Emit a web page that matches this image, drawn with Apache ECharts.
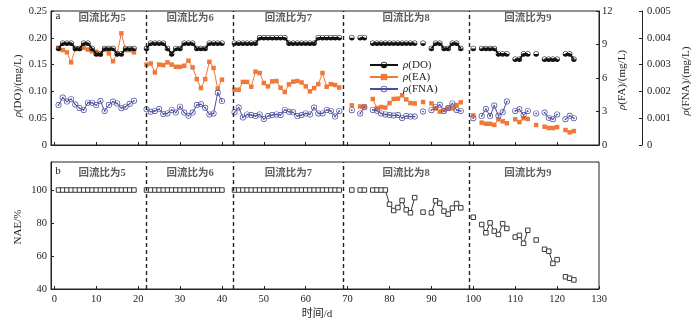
<!DOCTYPE html>
<html>
<head>
<meta charset="utf-8">
<script src="https://cdn.jsdelivr.net/npm/echarts@6/dist/echarts.min.js"></script>
<style>
  html, body { margin: 0; padding: 0; background: #ffffff; }
  #chart { width: 700px; height: 326px; }
</style>
</head>
<body>
<div id="chart"></div>
<script>
// Sampling days (d)
const days = [
  1, 2, 3, 4, 5, 6, 7, 8, 9, 10, 11, 12, 13, 14, 15, 16, 17, 18, 19,
  22, 23, 24, 25, 26, 27, 28, 29, 30, 31, 32, 33, 34, 35, 36, 37, 38, 39, 40,
  43, 44, 45, 46, 47, 48, 49, 50, 51, 52, 53, 54, 55, 56, 57, 58, 59, 60, 61, 62, 63, 64, 65, 66, 67, 68,
  71, 73, 74, 76, 77, 78, 79, 80, 81, 82, 83, 84, 85, 86, 88, 90, 91, 92, 93, 94, 95, 96, 97,
  100, 102, 103, 104, 105, 106, 107, 108, 110, 111, 112, 113, 115, 117, 118, 119, 120, 122, 123, 124
];

// Dissolved oxygen, mg/L
const doValues = [
  0.18, 0.19, 0.19, 0.19, 0.18, 0.18, 0.19, 0.19, 0.18, 0.17, 0.17, 0.18, 0.18, 0.18, 0.17, 0.17, 0.18, 0.18, 0.18,
  0.18, 0.19, 0.19, 0.19, 0.19, 0.18, 0.17, 0.18, 0.18, 0.19, 0.19, 0.19, 0.18, 0.18, 0.18, 0.19, 0.19, 0.19, 0.19,
  0.19, 0.19, 0.19, 0.19, 0.19, 0.19, 0.20, 0.20, 0.20, 0.20, 0.20, 0.20, 0.20, 0.19, 0.19, 0.19, 0.19, 0.19, 0.19, 0.19, 0.20, 0.20, 0.20, 0.20, 0.20, 0.20,
  0.20, 0.20, 0.20, 0.19, 0.19, 0.19, 0.19, 0.19, 0.19, 0.19, 0.19, 0.19, 0.19, 0.19, 0.19, 0.18, 0.19, 0.19, 0.18, 0.18, 0.19, 0.19, 0.18,
  0.18, 0.18, 0.18, 0.18, 0.18, 0.17, 0.17, 0.17, 0.16, 0.16, 0.17, 0.17, 0.17, 0.16, 0.16, 0.16, 0.16, 0.17, 0.17, 0.16
];

// Free ammonia, mg/L
const eaValues = [
  8.7, 8.5, 8.3, 7.4, 8.6, 8.6, 8.7, 8.55, 8.4, 8.35, 8.1, 8.55, 8.2, 7.5, 8.2, 10.0, 8.5, 8.5, 8.3,
  7.2, 7.3, 6.5, 7.2, 7.15, 7.4, 7.2, 7.0, 7.0, 7.1, 7.55, 6.95, 5.9, 5.1, 5.9, 7.45, 6.9, 5.05, 5.85,
  4.95, 4.95, 5.65, 5.65, 5.22, 6.57, 6.45, 5.55, 5.25, 5.7, 5.73, 5.13, 4.75, 5.43, 5.67, 5.73, 5.6, 5.25, 4.8, 5.1, 5.45, 6.45, 5.22, 5.45, 5.37, 5.15,
  3.55, 3.45, 3.45, 4.12, 3.3, 3.4, 3.35, 3.75, 4.12, 4.15, 4.45, 4.08, 3.75, 3.72, 3.85, 3.73, 3.28, 2.99, 3.13, 3.28, 3.28, 3.58, 3.82,
  2.65, 2.0, 1.9, 1.9, 1.8, 2.3, 2.12, 1.95, 2.3, 2.05, 2.4, 2.33, 1.79, 1.64, 1.52, 1.52, 1.6, 1.34, 1.13, 1.25
];

// Free nitrous acid, mg/L
const fnaValues = [
  0.00149, 0.00177, 0.00162, 0.00171, 0.00151, 0.00138, 0.00131, 0.00158, 0.00158, 0.00149, 0.00164, 0.00127, 0.00149, 0.00162, 0.00155, 0.00137, 0.00143, 0.00154, 0.00165,
  0.00133, 0.00124, 0.00127, 0.00134, 0.00116, 0.00118, 0.00131, 0.00121, 0.00143, 0.00121, 0.00109, 0.00121, 0.00149, 0.00152, 0.00139, 0.00114, 0.00118, 0.00195, 0.00164,
  0.00122, 0.00140, 0.00103, 0.00114, 0.00112, 0.00108, 0.00114, 0.00097, 0.00108, 0.00112, 0.00114, 0.00112, 0.00131, 0.00124, 0.00122, 0.00108, 0.00112, 0.00118, 0.00114, 0.00140, 0.00118, 0.00118, 0.00131, 0.00127, 0.00106, 0.00127,
  0.00130, 0.00118, 0.00141, 0.00131, 0.00128, 0.00118, 0.00114, 0.00112, 0.00110, 0.00112, 0.00101, 0.00108, 0.00106, 0.00106, 0.00125, 0.00130, 0.00142, 0.00150, 0.00127, 0.00138, 0.00155, 0.00131, 0.00127,
  0.00100, 0.00108, 0.00134, 0.00108, 0.00147, 0.00109, 0.00122, 0.00162, 0.00127, 0.00133, 0.00112, 0.00127, 0.00118, 0.00121, 0.00102, 0.00096, 0.00114, 0.00096, 0.00109, 0.00100
];

// Nitrite accumulation efficiency, %
const naeValues = [
  100, 100, 100, 100, 100, 100, 100, 100, 100, 100, 100, 100, 100, 100, 100, 100, 100, 100, 100,
  100, 100, 100, 100, 100, 100, 100, 100, 100, 100, 100, 100, 100, 100, 100, 100, 100, 100, 100,
  100, 100, 100, 100, 100, 100, 100, 100, 100, 100, 100, 100, 100, 100, 100, 100, 100, 100, 100, 100, 100, 100, 100, 100, 100, 100,
  100, 100, 100, 100, 100, 100, 100, 91.4, 87.6, 89.4, 93.7, 88.0, 86.2, 95.4, 86.6, 86.2, 93.5, 92.0, 87.2, 85.4, 89.0, 91.8, 89.2,
  83.5, 79.1, 74.1, 80.1, 75.1, 73.1, 79.6, 76.7, 71.5, 72.5, 67.7, 75.6, 69.7, 64.1, 62.9, 55.5, 57.8, 47.4, 46.5, 45.5
];

// Reflux-ratio phases and the days that separate them
const phaseNames = ['回流比为5', '回流比为6', '回流比为7', '回流比为8', '回流比为9'];
const phaseDividers = [22, 42.8, 68.9, 99];
const phaseEdges = [0.8, 127];

// Axis tick labels
const xTickValues = [0, 10, 20, 30, 40, 50, 60, 70, 80, 90, 100, 110, 120, 130];
const naeTickValues = [40, 60, 80, 100];

const SERIF = 'Liberation Serif';
const CJK = 'Noto Sans CJK SC';
const INK = '#222222';
const TICK_FONT = 10.5;

// Pair days with values; a gap in sampling days breaks the line
function withGaps(xs, ys) {
  const out = [];
  for (let i = 0; i < xs.length; i++) {
    if (i > 0 && xs[i] - xs[i - 1] > 1) out.push([(xs[i] + xs[i - 1]) / 2, '-']);
    out.push([xs[i], ys[i]]);
  }
  return out;
}

const bounds = [phaseEdges[0]].concat(phaseDividers, [phaseEdges[1]]);
const phaseCenters = phaseNames.map((_, i) => (bounds[i] + bounds[i + 1]) / 2);

// Marker shapes: half-filled circle for DO, ring with centre dot for FNA
const halfCircle = 'path://M0,5A5,5 0 1,1 10,5A5,5 0 1,1 0,5ZM1,5L9,5A4,4 0 0,0 1,5Z';
const dotRing = 'path://M0,5A5,5 0 1,1 10,5A5,5 0 1,1 0,5ZM1.1,5A3.9,3.9 0 1,0 8.9,5A3.9,3.9 0 1,0 1.1,5ZM3.6,5A1.4,1.4 0 1,1 6.4,5A1.4,1.4 0 1,1 3.6,5Z';

function xAxisCfg(gridIndex, showLabel) {
  return {
    type: 'value', gridIndex, min: -0.8, max: 130,
    splitLine: { show: false },
    axisLine: { show: true, onZero: false, lineStyle: { color: INK, width: 1 } },
    axisTick: { show: true, inside: true, length: 3, customValues: xTickValues, lineStyle: { color: INK } },
    axisLabel: { show: showLabel, customValues: xTickValues, margin: 5, fontFamily: SERIF, fontSize: TICK_FONT, color: INK }
  };
}

function fmtFixed(digits) {
  return v => (v === 0 ? '0' : v.toFixed(digits));
}

const dashLines = {
  silent: true,
  symbol: 'none',
  label: { show: false },
  lineStyle: { type: [4, 3], color: INK, width: 1.4 },
  emphasis: { disabled: true },
  data: phaseDividers.map(d => ({ xAxis: d }))
};

const phaseLabel = {
  show: true, position: 'inside', formatter: '{b}',
  fontFamily: SERIF + ', ' + CJK, fontSize: 10.5, fontWeight: 'bold', color: '#333333'
};

const chart = echarts.init(document.getElementById('chart'), null, { renderer: 'canvas' });

chart.setOption({
  animation: false,
  backgroundColor: '#ffffff',
  grid: [
    { left: 51, top: 11, width: 548, height: 134, show: true, borderColor: INK, borderWidth: 1, backgroundColor: 'transparent' },
    { left: 51, top: 162, width: 548, height: 127, show: true, borderColor: INK, borderWidth: 1, backgroundColor: 'transparent' }
  ],
  xAxis: [xAxisCfg(0, false), xAxisCfg(1, true)],
  yAxis: [
    {
      type: 'value', gridIndex: 0, min: 0, max: 0.25, interval: 0.05, position: 'left',
      splitLine: { show: false },
      axisLine: { show: true, onZero: false, lineStyle: { color: INK } },
      axisTick: { inside: true, length: 3, lineStyle: { color: INK } },
      axisLabel: { margin: 4, fontFamily: SERIF, fontSize: TICK_FONT, color: INK, formatter: fmtFixed(2) }
    },
    {
      type: 'value', gridIndex: 0, min: 0, max: 12, interval: 3, position: 'right',
      splitLine: { show: false },
      axisLine: { show: true, onZero: false, lineStyle: { color: INK } },
      axisTick: { inside: true, length: 3, lineStyle: { color: INK } },
      axisLabel: { margin: 3, fontFamily: SERIF, fontSize: TICK_FONT, color: INK }
    },
    {
      type: 'value', gridIndex: 0, min: 0, max: 0.005, interval: 0.001, position: 'right', offset: 43,
      splitLine: { show: false },
      axisLine: { show: true, onZero: false, lineStyle: { color: INK } },
      axisTick: { inside: true, length: 3, lineStyle: { color: INK } },
      axisLabel: { margin: 5, fontFamily: SERIF, fontSize: TICK_FONT, color: INK, formatter: fmtFixed(3) }
    },
    {
      type: 'value', gridIndex: 1, min: 40, max: 117, position: 'left',
      splitLine: { show: false },
      axisLine: { show: true, onZero: false, lineStyle: { color: INK } },
      axisTick: { inside: true, length: 3, customValues: naeTickValues, lineStyle: { color: INK } },
      axisLabel: { margin: 4, customValues: naeTickValues, fontFamily: SERIF, fontSize: TICK_FONT, color: INK }
    }
  ],
  legend: {
    orient: 'vertical', left: 364, top: 54,
    itemWidth: 28, itemHeight: 8, itemGap: 0,
    data: ['ρ(DO)', 'ρ(EA)', 'ρ(FNA)'],
    formatter: name => '{i|ρ}' + name.slice(1),
    textStyle: {
      fontFamily: SERIF, fontSize: 11, color: INK, lineHeight: 12,
      rich: { i: { fontFamily: SERIF, fontSize: 11, fontStyle: 'italic', color: INK } }
    }
  },
  series: [
    {
      name: 'ρ(DO)', type: 'line', xAxisIndex: 0, yAxisIndex: 0,
      data: withGaps(days, doValues), connectNulls: false,
      symbol: halfCircle, symbolSize: 5.5, showAllSymbol: true,
      itemStyle: { color: '#111111' },
      lineStyle: { color: '#111111', width: 1.8 },
      markLine: dashLines,
      z: 4
    },
    {
      name: 'ρ(EA)', type: 'line', xAxisIndex: 0, yAxisIndex: 1,
      data: withGaps(days, eaValues), connectNulls: false,
      symbol: 'rect', symbolSize: 4.5, showAllSymbol: true,
      itemStyle: { color: '#F0793A' },
      lineStyle: { color: '#F0793A', width: 1 },
      z: 3
    },
    {
      name: 'ρ(FNA)', type: 'line', xAxisIndex: 0, yAxisIndex: 2,
      data: withGaps(days, fnaValues), connectNulls: false,
      symbol: dotRing, symbolSize: 6, showAllSymbol: true,
      itemStyle: { color: '#4B4D9E' },
      lineStyle: { color: '#4B4D9E', width: 1 },
      z: 3
    },
    {
      name: 'NAE', type: 'line', xAxisIndex: 1, yAxisIndex: 3,
      data: withGaps(days, naeValues), connectNulls: false,
      symbol: 'rect', symbolSize: 4.5, showAllSymbol: true,
      itemStyle: { color: '#ffffff', borderColor: '#3a3a3a', borderWidth: 1 },
      lineStyle: { color: '#3a3a3a', width: 1 },
      markLine: dashLines,
      z: 3
    },
    {
      name: 'phaseTop', type: 'scatter', xAxisIndex: 0, yAxisIndex: 0, silent: true,
      symbolSize: 1, itemStyle: { color: 'transparent' },
      data: phaseNames.map((n, i) => ({ name: n, value: [phaseCenters[i], 0.237] })),
      label: phaseLabel
    },
    {
      name: 'phaseBottom', type: 'scatter', xAxisIndex: 1, yAxisIndex: 3, silent: true,
      symbolSize: 1, itemStyle: { color: 'transparent' },
      data: phaseNames.map((n, i) => ({ name: n, value: [phaseCenters[i], 110.3] })),
      label: phaseLabel
    }
  ],
  graphic: [
    { type: 'text', x: 58, y: 16, style: { text: 'a', fontFamily: SERIF, fontSize: 11, fill: INK, align: 'center', verticalAlign: 'middle' } },
    { type: 'text', x: 58, y: 171, style: { text: 'b', fontFamily: SERIF, fontSize: 11, fill: INK, align: 'center', verticalAlign: 'middle' } },
    {
      type: 'text', x: 18, y: 86, rotation: Math.PI / 2,
      style: { text: '{i|ρ}(DO)/(mg/L)', fontFamily: SERIF, fontSize: 11, fill: INK, align: 'center', verticalAlign: 'middle',
        rich: { i: { fontFamily: SERIF, fontSize: 11, fontStyle: 'italic', fill: INK } } }
    },
    {
      type: 'text', x: 622, y: 80, rotation: Math.PI / 2,
      style: { text: '{i|ρ}(FA)/(mg/L)', fontFamily: SERIF, fontSize: 11, fill: INK, align: 'center', verticalAlign: 'middle',
        rich: { i: { fontFamily: SERIF, fontSize: 11, fontStyle: 'italic', fill: INK } } }
    },
    {
      type: 'text', x: 686, y: 81, rotation: Math.PI / 2,
      style: { text: '{i|ρ}(FNA)/(mg/L)', fontFamily: SERIF, fontSize: 11, fill: INK, align: 'center', verticalAlign: 'middle',
        rich: { i: { fontFamily: SERIF, fontSize: 11, fontStyle: 'italic', fill: INK } } }
    },
    {
      type: 'text', x: 18, y: 227, rotation: Math.PI / 2,
      style: { text: 'NAE/%', fontFamily: SERIF, fontSize: 11, fill: INK, align: 'center', verticalAlign: 'middle' }
    },
    {
      type: 'text', x: 317, y: 314,
      style: { text: '时间/d', fontFamily: SERIF + ', ' + CJK, fontSize: 11, fill: INK, align: 'center', verticalAlign: 'middle' }
    }
  ]
});
</script>
</body>
</html>
